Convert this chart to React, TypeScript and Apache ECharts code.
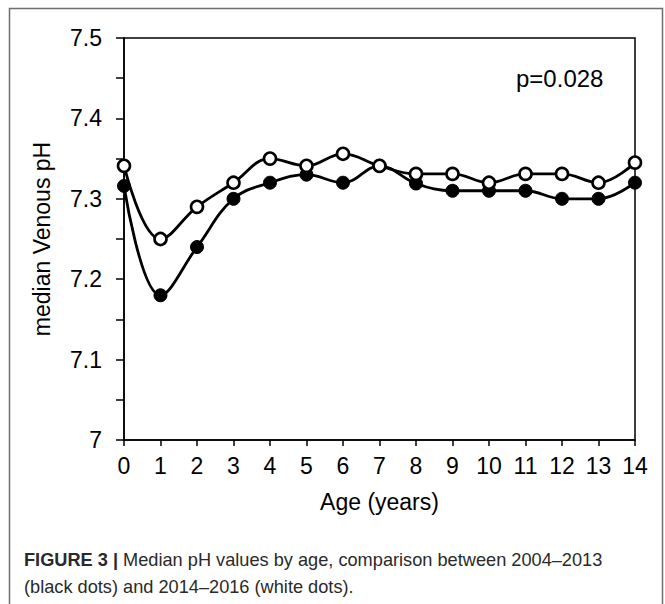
import React, { useEffect, useRef } from "react";
import * as echarts from "echarts";

const ages = [0, 1, 2, 3, 4, 5, 6, 7, 8, 9, 10, 11, 12, 13, 14];
const black2004_2013 = [7.316, 7.18, 7.24, 7.30, 7.32, 7.33, 7.32, 7.341, 7.319, 7.31, 7.31, 7.31, 7.30, 7.30, 7.32];
const white2014_2016 = [7.341, 7.25, 7.29, 7.32, 7.35, 7.341, 7.356, 7.341, 7.331, 7.331, 7.32, 7.331, 7.331, 7.32, 7.345];
const yTicks = [7, 7.1, 7.2, 7.3, 7.4, 7.5];
const pText = "p=0.028";
const xName = "Age (years)";
const yName = "median Venous pH";
const captionBold = "FIGURE 3 |";
const captionLine1 = " Median pH values by age, comparison between 2004–2013";
const captionLine2 = "(black dots) and 2014–2016 (white dots).";

const FONT = "'Liberation Sans', Arial, Helvetica, sans-serif";

export default function App() {
  const ref = useRef<HTMLDivElement>(null);
  useEffect(() => {
    if (!ref.current) return;
    const chart = echarts.init(ref.current, undefined, { renderer: "svg" });
    const pairs = (vals: number[]) => ages.map((a, i) => [a, vals[i]]);
    chart.setOption({
      animation: false,
      backgroundColor: "#fff",
      textStyle: { fontFamily: FONT },
      grid: {
        left: 124,
        top: 38,
        right: 30,
        bottom: 164,
        show: true,
        borderColor: "#000",
        borderWidth: 1.5,
        backgroundColor: "transparent",
      },
      xAxis: {
        type: "value",
        min: 0,
        max: 14,
        interval: 1,
        name: xName,
        nameLocation: "middle",
        nameGap: 50,
        nameTextStyle: { fontSize: 23, color: "#000", fontFamily: FONT },
        axisLine: { show: true, lineStyle: { color: "#000", width: 1.5 } },
        axisTick: { show: true, length: 6, lineStyle: { color: "#000", width: 1.5 } },
        axisLabel: { fontSize: 23, color: "#000", margin: 14, fontFamily: FONT },
        splitLine: { show: false },
      },
      yAxis: {
        type: "value",
        min: 7,
        max: 7.5,
        interval: 0.05,
        name: yName,
        nameLocation: "middle",
        nameGap: 71,
        nameTextStyle: { fontSize: 23, color: "#000", fontFamily: FONT },
        axisLine: { show: true, lineStyle: { color: "#000", width: 1.5 } },
        axisTick: { show: true, length: 8, lineStyle: { color: "#000", width: 1.5 } },
        axisLabel: {
          fontSize: 23,
          color: "#000",
          margin: 22,
          fontFamily: FONT,
          formatter: (v: number) => {
            const k = Math.round(v * 20);
            if (k % 2 !== 0) return "";
            const t = yTicks.find((y) => Math.abs(y - v) < 1e-6);
            return t !== undefined ? String(t) : "";
          },
        },
        splitLine: { show: false },
      },
      series: [
        {
          name: "2004–2013",
          type: "line",
          data: pairs(black2004_2013),
          smooth: 0.4,
          symbol: "circle",
          symbolSize: 13,
          lineStyle: { color: "#000", width: 2.8 },
          itemStyle: { color: "#000", borderColor: "#000", borderWidth: 1 },
          z: 2,
        },
        {
          name: "2014–2016",
          type: "line",
          data: pairs(white2014_2016),
          smooth: 0.4,
          symbol: "circle",
          symbolSize: 12,
          lineStyle: { color: "#000", width: 2.8 },
          itemStyle: { color: "#fff", borderColor: "#000", borderWidth: 2.6 },
          z: 3,
        },
      ],
      graphic: [
        {
          type: "rect",
          shape: { x: 9.5, y: 8.5, width: 653, height: 640 },
          style: { fill: "none", stroke: "#6e6e6e", lineWidth: 1.5 },
          silent: true,
          z: 0,
        },
        {
          type: "text",
          x: 516,
          y: 66,
          style: { text: pText, font: `24px ${FONT}`, fill: "#000" },
        },
        {
          type: "text",
          x: 24,
          y: 546,
          style: {
            text: `{b|${captionBold}}{r|${captionLine1}}\n{r|${captionLine2}}`,
            rich: {
              b: { font: `bold 18.2px ${FONT}`, fill: "#2a2a2a", lineHeight: 27 },
              r: { font: `18.2px ${FONT}`, fill: "#2a2a2a", lineHeight: 27 },
            },
          },
        },
      ],
    });
    return () => chart.dispose();
  }, []);
  return (
    <div
      ref={ref}
      style={{ position: "absolute", left: 0, top: 0, width: 665, height: 604 }}
    />
  );
}
